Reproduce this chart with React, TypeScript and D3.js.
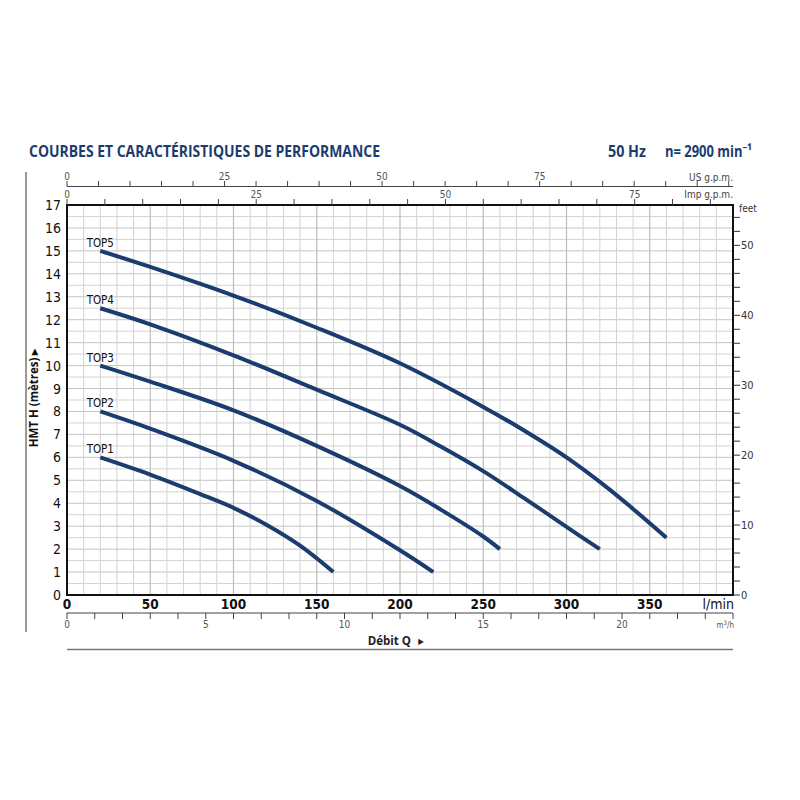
import React from 'react';
import * as d3 from 'd3';

// Pump curves, flow in l/min and head in metres
const pumpNames = ['TOP1', 'TOP2', 'TOP3', 'TOP4', 'TOP5'];
const flowTop1 = [20, 50, 80, 100, 120, 140, 160];
const headTop1 = [6, 5.25, 4.4, 3.8, 3.05, 2.15, 1];
const flowTop2 = [20, 50, 100, 150, 200, 220];
const headTop2 = [8, 7.25, 5.85, 4.1, 1.95, 1];
const flowTop3 = [20, 50, 100, 150, 200, 225, 250, 260];
const headTop3 = [10, 9.3, 8.05, 6.5, 4.75, 3.7, 2.55, 2];
const flowTop4 = [20, 50, 100, 150, 200, 225, 250, 275, 300, 320];
const headTop4 = [12.5, 11.8, 10.45, 8.95, 7.42, 6.45, 5.4, 4.2, 2.97, 2];
const flowTop5 = [20, 50, 100, 150, 200, 250, 275, 300, 325, 340, 360];
const headTop5 = [15, 14.3, 13.05, 11.65, 10.1, 8.2, 7.15, 6.0, 4.65, 3.75, 2.5];

const lpmLabels = [0, 50, 100, 150, 200, 250, 300, 350];
const headLabels = [0, 1, 2, 3, 4, 5, 6, 7, 8, 9, 10, 11, 12, 13, 14, 15, 16, 17];
const feetLabels = [0, 10, 20, 30, 40, 50];
const usGpmLabels = [0, 25, 50, 75];
const impGpmLabels = [0, 25, 50, 75];
const m3hLabels = [0, 5, 10, 15, 20];

const LPM_PER_USGPM = 3.785;
const LPM_PER_IMPGPM = 4.546;
const LPM_PER_M3H = 1000 / 60;
const FT_PER_M = 3.2808;

const narrow = "'Liberation Sans Narrow', 'Arial Narrow', 'DejaVu Sans Condensed', sans-serif";
const titleFont = "'Open Sans', 'Noto Sans', sans-serif";
const blue = '#1b3c6e';

export default function App() {
  const left = 67, right = 733, top = 205, bottom = 595;
  const x = d3.scaleLinear().domain([0, 400]).range([left, right]);
  const y = d3.scaleLinear().domain([0, 17]).range([bottom, top]);
  const xUs = d3.scaleLinear().domain([0, 400 / LPM_PER_USGPM]).range([left, right]);
  const xImp = d3.scaleLinear().domain([0, 400 / LPM_PER_IMPGPM]).range([left, right]);
  const xM3h = d3.scaleLinear().domain([0, 400 / LPM_PER_M3H]).range([left, right]);
  const yFt = d3.scaleLinear().domain([0, 17 * FT_PER_M]).range([bottom, top]);

  const series = [
    { name: pumpNames[0], q: flowTop1, h: headTop1 },
    { name: pumpNames[1], q: flowTop2, h: headTop2 },
    { name: pumpNames[2], q: flowTop3, h: headTop3 },
    { name: pumpNames[3], q: flowTop4, h: headTop4 },
    { name: pumpNames[4], q: flowTop5, h: headTop5 },
  ];

  const line = d3.line<[number, number]>()
    .x(d => x(d[0]))
    .y(d => y(d[1]))
    .curve(d3.curveCatmullRom.alpha(0.5));

  const vGrid = d3.range(10, 400, 10);
  const hGrid = d3.range(0.5, 17, 0.5);
  const usTicks = d3.range(0, xUs.domain()[1], 5);
  const impTicks = d3.range(0, xImp.domain()[1], 5);
  const m3hTicks = d3.range(0, 24.01, 1);
  const ftTicks = d3.range(0, yFt.domain()[1], 2);

  return (
    <svg width={800} height={800} style={{ position: 'absolute', left: 0, top: 0, background: '#fff' }}>
      <rect width={800} height={800} fill="#fff" />

      {/* titles */}
      <text x={29} y={157} fontFamily={titleFont} fontWeight={700} fontSize={16} fill={blue}
        textLength={351} lengthAdjust="spacingAndGlyphs">
        COURBES ET CARACTÉRISTIQUES DE PERFORMANCE
      </text>
      <text x={608} y={157} fontFamily={titleFont} fontWeight={700} fontSize={16} fill={blue}
        textLength={38} lengthAdjust="spacingAndGlyphs">50 Hz</text>
      <text x={665} y={157} fontFamily={titleFont} fontWeight={700} fontSize={16} fill={blue}
        textLength={87} lengthAdjust="spacingAndGlyphs">n= 2900 min⁻¹</text>

      {/* left frame line */}
      <line x1={26} x2={26} y1={172} y2={632} stroke="#555" strokeWidth={1.2} />

      {/* grid */}
      {hGrid.map(v => (
        <line key={'h' + v} x1={left} x2={right} y1={y(v)} y2={y(v)}
          stroke={Number.isInteger(v) ? '#c4c4c4' : '#d3d3d3'} strokeWidth={1} />
      ))}
      {vGrid.map(v => (
        <line key={'v' + v} x1={x(v)} x2={x(v)} y1={top} y2={bottom}
          stroke={v % 50 === 0 ? '#bdbdbd' : '#d3d3d3'} strokeWidth={v % 50 === 0 ? 1.2 : 1} />
      ))}
      <rect x={left} y={top} width={right - left} height={bottom - top} fill="none" stroke="#111" strokeWidth={2} />

      {/* curves */}
      {series.map(s => {
        const pts = s.q.map((q, i) => [q, s.h[i]] as [number, number]);
        return (
          <g key={s.name}>
            <path d={line(pts) || ''} fill="none" stroke={blue} strokeWidth={4} />
            <text x={x(s.q[0])} y={y(s.h[0]) - 4} textAnchor="middle" fontFamily={narrow}
              fontSize={11.5} fill="#111">{s.name}</text>
          </g>
        );
      })}

      {/* left axis labels */}
      {headLabels.map(v => (
        <text key={'yl' + v} x={61} y={y(v) + 5} textAnchor="end" fontFamily={narrow}
          fontSize={14} fill="#111">{v}</text>
      ))}
      <text transform={`translate(38,398) rotate(-90)`} textAnchor="middle" fontFamily={titleFont}
        fontWeight={700} fontSize={11.5} fill="#111">HMT H (mètres)  ▸</text>

      {/* right axis: feet */}
      {ftTicks.map(v => (
        <line key={'ft' + v} x1={right} x2={right + 7} y1={yFt(v)} y2={yFt(v)} stroke="#333" strokeWidth={1} />
      ))}
      {feetLabels.map(v => (
        <text key={'fl' + v} x={right + 8} y={yFt(v) + 4} fontFamily={narrow} fontSize={11} fill="#333">{v}</text>
      ))}
      <text x={739} y={212} fontFamily={narrow} fontSize={10} fill="#333">feet</text>

      {/* bottom axis: l/min */}
      {lpmLabels.map(v => (
        <text key={'xl' + v} x={x(v)} y={609} textAnchor="middle" fontFamily={narrow}
          fontWeight={700} fontSize={13.5} fill="#111">{v}</text>
      ))}
      <text x={right + 1} y={609} textAnchor="end" fontFamily={narrow} fontSize={14} fill="#111">l/min</text>

      {/* m3/h axis */}
      <line x1={left} x2={right} y1={613} y2={613} stroke="#444" strokeWidth={1.2} />
      {m3hTicks.map(v => (
        <line key={'m3' + v} x1={xM3h(v)} x2={xM3h(v)} y1={613} y2={619} stroke="#444" strokeWidth={1} />
      ))}
      {m3hLabels.map(v => (
        <text key={'m3l' + v} x={xM3h(v)} y={628} textAnchor="middle" fontFamily={narrow} fontSize={10} fill="#555">{v}</text>
      ))}
      <text x={right + 1} y={628} textAnchor="end" fontFamily={narrow} fontSize={8} fill="#555">
        m<tspan fontSize={6} dy={-3}>3</tspan><tspan dy={3}>/h</tspan>
      </text>

      <text x={411} y={645} textAnchor="end" fontFamily={titleFont} fontWeight={700} fontSize={11.5} fill="#222">Débit Q</text>
      <text x={421} y={644} textAnchor="middle" fontFamily={narrow} fontSize={8} fill="#222">▶</text>
      <line x1={left} x2={right} y1={649.5} y2={649.5} stroke="#777" strokeWidth={1.5} />

      {/* US gpm axis */}
      <line x1={left} x2={right} y1={186.5} y2={186.5} stroke="#444" strokeWidth={1.2} />
      {usTicks.map(v => (
        <line key={'us' + v} x1={xUs(v)} x2={xUs(v)} y1={186.5} y2={181} stroke="#444" strokeWidth={1} />
      ))}
      {usGpmLabels.map(v => (
        <text key={'usl' + v} x={xUs(v)} y={180} textAnchor="middle" fontFamily={narrow} fontSize={10} fill="#555">{v}</text>
      ))}
      <text x={right} y={181} textAnchor="end" fontFamily={narrow} fontSize={10} fill="#444">US g.p.m.</text>

      {/* Imp gpm axis on plot top */}
      {impTicks.map(v => (
        <line key={'imp' + v} x1={xImp(v)} x2={xImp(v)} y1={top} y2={199} stroke="#444" strokeWidth={1} />
      ))}
      {impGpmLabels.map(v => (
        <text key={'impl' + v} x={xImp(v)} y={198} textAnchor="middle" fontFamily={narrow} fontSize={10} fill="#555">{v}</text>
      ))}
      <text x={right} y={198} textAnchor="end" fontFamily={narrow} fontSize={10} fill="#444">Imp g.p.m.</text>
    </svg>
  );
}
